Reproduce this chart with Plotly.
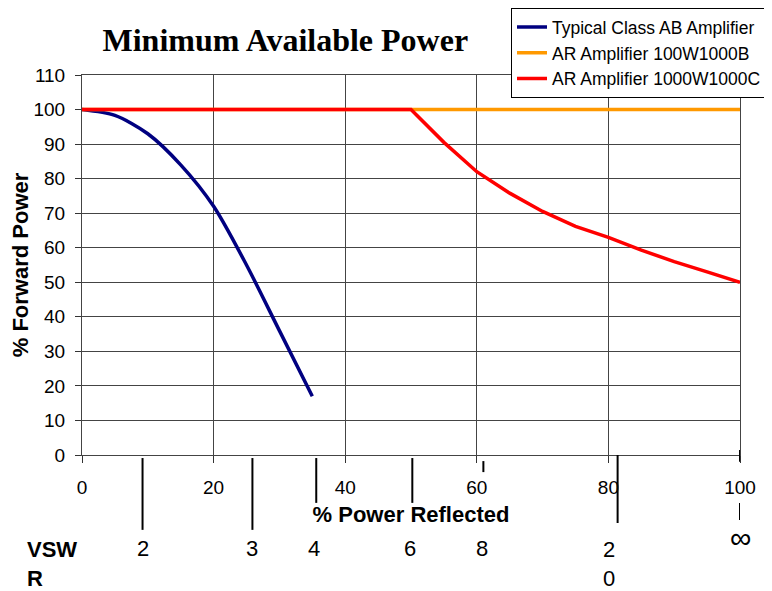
import plotly.graph_objects as go

# ---- data ----
ab_x = [0, 5, 10, 15, 20, 25, 30, 35]
ab_y = [100, 98.3, 93, 84, 72, 55, 36, 17]

b_x = [0, 100]
b_y = [100, 100]

c_x = [0, 50, 55, 60, 65, 70, 75, 80, 85, 90, 95, 100]
c_y = [100, 100, 90.5, 82, 75.8, 70.5, 66.2, 63, 59.3, 56, 53, 50]

series_names = ["Typical Class AB Amplifier", "AR Amplifier 100W1000B", "AR Amplifier 1000W1000C"]

x_ticks = [0, 20, 40, 60, 80, 100]
y_ticks = [0, 10, 20, 30, 40, 50, 60, 70, 80, 90, 100, 110]

vswr_labels = ["2", "3", "4", "6", "8", "2<br>0", "∞"]
vswr_pos = [9.2, 25.9, 35.6, 50.2, 61.0, 81.4, 100]

# ---- styles ----
FONT = "Arial, Liberation Sans, sans-serif"
colors = ["#000080", "#FF9900", "#FF0000"]
# vertical marker segments below the axis, in paper y (from, to) per VSWR marker
seg_styles = [
    [(-0.008, -0.197)],
    [(-0.008, -0.197)],
    [(-0.008, -0.126)],
    [(-0.008, -0.126)],
    [(-0.016, -0.045)],
    [(0.0, -0.179)],
    [(0.013, -0.018), (-0.126, -0.171)],
]
label_shift = [0, 0, -2, -2, -1, -9, 0]
label_y = [-0.245, -0.245, -0.245, -0.245, -0.245, -0.287, -0.218]
label_size = [22, 22, 22, 22, 22, 22, 30]

W, H = 764, 583  # page body adds an 8px offset

fig = go.Figure()
fig.add_trace(go.Scatter(x=ab_x, y=ab_y, mode="lines", name=series_names[0],
                         line=dict(color=colors[0], width=3.5, shape="spline", smoothing=0.8)))
fig.add_trace(go.Scatter(x=b_x, y=b_y, mode="lines", name=series_names[1],
                         line=dict(color=colors[1], width=3.5)))
fig.add_trace(go.Scatter(x=c_x, y=c_y, mode="lines", name=series_names[2],
                         line=dict(color=colors[2], width=3.5)))

shapes = []
annotations = []
for pos, lab, segs, dx, ly, fs in zip(vswr_pos, vswr_labels, seg_styles, label_shift, label_y, label_size):
    for (y0, y1) in segs:
        shapes.append(dict(type="line", xref="x", yref="paper", x0=pos, x1=pos, y0=y0, y1=y1,
                           line=dict(color="black", width=2)))
    annotations.append(dict(x=pos, y=ly, xref="x", yref="paper", text=lab, showarrow=False,
                            xshift=dx, yanchor="middle", xanchor="center",
                            font=dict(family=FONT, size=fs, color="black")))

annotations.append(dict(x=0, y=-0.287, xref="paper", yref="paper", xshift=-57,
                        text="<b>VSW<br>R</b>", showarrow=False, xanchor="left", yanchor="middle",
                        align="left", font=dict(family=FONT, size=22, color="black")))

fig.update_layout(
    width=W, height=H,
    margin=dict(l=74, r=32, t=67, b=136, autoexpand=False),
    paper_bgcolor="white", plot_bgcolor="white",
    title=dict(text="<b>Minimum Available Power</b>", x=0.309, xref="paper", xanchor="center",
               y=1 - 32 / H, yref="container", yanchor="middle",
               font=dict(family="Times New Roman, Liberation Serif, serif", size=32, color="black")),
    xaxis=dict(range=[0, 100], tickvals=x_ticks, ticks="outside", ticklen=7, tickcolor="#333",
               showgrid=True, gridcolor="#444", gridwidth=1, showline=True, linecolor="#444",
               linewidth=1, mirror=True, zeroline=False, ticklabelstandoff=8,
               tickfont=dict(family=FONT, size=19, color="black"),
               title=dict(text="<b>% Power Reflected</b>", standoff=9,
                          font=dict(family=FONT, size=22, color="black"))),
    yaxis=dict(range=[0, 110], tickvals=y_ticks, ticks="outside", ticklen=6, tickcolor="#333",
               showgrid=True, gridcolor="#444", gridwidth=1, showline=True, linecolor="#444",
               linewidth=1, mirror=True, zeroline=False, ticklabelstandoff=6,
               tickfont=dict(family=FONT, size=19, color="black"),
               title=dict(text="<b>% Forward Power</b>", standoff=2,
                          font=dict(family=FONT, size=22, color="black"))),
    legend=dict(x=0.652, y=1.176, xanchor="left", yanchor="top", bgcolor="white",
                bordercolor="black", borderwidth=1, tracegroupgap=0,
                font=dict(family=FONT, size=17.5, color="black")),
    shapes=shapes, annotations=annotations,
)

fig.write_html("out.html")
